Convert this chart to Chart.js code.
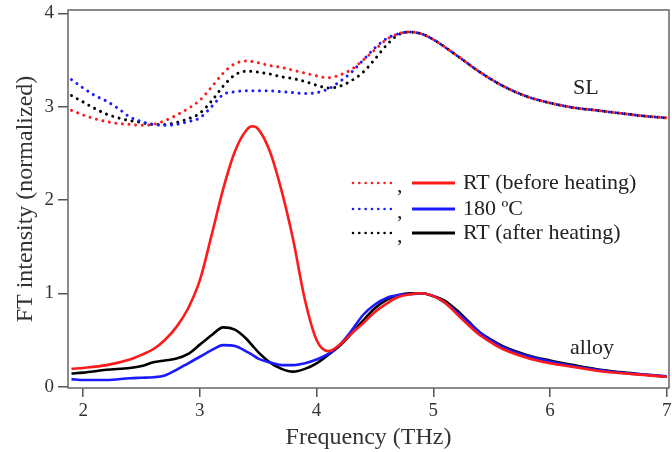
<!DOCTYPE html>
<html>
<head>
<meta charset="utf-8">
<script src="https://cdn.jsdelivr.net/npm/chart.js@4.4.1/dist/chart.umd.min.js"></script>
<style>
  html, body { margin: 0; padding: 0; background: #fff; }
  #wrap { width: 672px; height: 452px; }
</style>
</head>
<body>
<div id="wrap"><canvas id="chart" width="672" height="452"></canvas></div>
<script>
// frequencies (THz) for the SL (dotted) curves
const freqSL = [1.9, 2.0, 2.1, 2.2, 2.3, 2.4, 2.5, 2.6, 2.7, 2.8, 2.9, 3.0, 3.1, 3.2, 3.3, 3.4, 3.5, 3.6, 3.7, 3.8, 3.9,
  4.0, 4.1, 4.2, 4.3, 4.4, 4.5, 4.6, 4.7, 4.8, 4.9, 5.0, 5.2, 5.4, 5.6, 5.8, 6.0, 6.2, 6.4, 6.6, 6.8, 7.0];
const slBefore = [2.96, 2.91, 2.87, 2.84, 2.82, 2.81, 2.80, 2.81, 2.85, 2.91, 2.98, 3.07, 3.21, 3.36, 3.46, 3.49, 3.47, 3.44, 3.42, 3.39, 3.36,
  3.33, 3.31, 3.34, 3.40, 3.50, 3.61, 3.72, 3.78, 3.80, 3.78, 3.72, 3.55, 3.37, 3.22, 3.11, 3.04, 2.99, 2.96, 2.93, 2.90, 2.88];
const sl180 = [3.29, 3.20, 3.12, 3.06, 2.98, 2.89, 2.84, 2.81, 2.80, 2.81, 2.84, 2.88, 3.00, 3.13, 3.16, 3.17, 3.17, 3.17, 3.16, 3.15, 3.14,
  3.15, 3.19, 3.27, 3.37, 3.50, 3.63, 3.73, 3.78, 3.80, 3.78, 3.72, 3.55, 3.37, 3.22, 3.11, 3.04, 2.99, 2.96, 2.93, 2.90, 2.88];
const slAfter = [3.12, 3.05, 2.98, 2.92, 2.88, 2.85, 2.83, 2.81, 2.81, 2.83, 2.87, 2.93, 3.06, 3.22, 3.34, 3.38, 3.37, 3.35, 3.32, 3.30, 3.27,
  3.23, 3.20, 3.22, 3.28, 3.37, 3.51, 3.66, 3.77, 3.80, 3.78, 3.72, 3.55, 3.37, 3.22, 3.11, 3.04, 2.99, 2.96, 2.93, 2.90, 2.88];

// frequencies (THz) for the alloy (solid) curves
const freqAlloy = [1.9, 2.0, 2.2, 2.4, 2.5, 2.6, 2.7, 2.8, 2.9, 3.0, 3.1, 3.2, 3.3, 3.4, 3.45, 3.5, 3.6, 3.7, 3.8, 3.9,
  4.0, 4.1, 4.2, 4.3, 4.4, 4.5, 4.6, 4.7, 4.8, 4.9, 5.0, 5.1, 5.2, 5.3, 5.4, 5.5, 5.6, 5.8, 6.0, 6.2, 6.4, 6.6, 6.8, 7.0];
const alloyBefore = [0.19, 0.20, 0.23, 0.29, 0.34, 0.40, 0.50, 0.64, 0.84, 1.14, 1.62, 2.12, 2.52, 2.75, 2.79, 2.76, 2.52, 2.10, 1.57, 0.93,
  0.50, 0.38, 0.45, 0.57, 0.68, 0.80, 0.89, 0.96, 0.99, 1.00, 0.97, 0.90, 0.78, 0.66, 0.55, 0.47, 0.40, 0.31, 0.25, 0.21, 0.17, 0.145, 0.125, 0.105];
const alloy180 = [0.08, 0.07, 0.07, 0.09, 0.095, 0.10, 0.12, 0.18, 0.25, 0.32, 0.39, 0.445, 0.435, 0.375, 0.34, 0.30, 0.26, 0.23, 0.23, 0.25,
  0.29, 0.35, 0.45, 0.60, 0.77, 0.88, 0.95, 0.98, 0.99, 1.00, 0.97, 0.90, 0.80, 0.69, 0.58, 0.49, 0.42, 0.33, 0.27, 0.22, 0.18, 0.15, 0.13, 0.11];
const alloyAfter = [0.14, 0.15, 0.18, 0.20, 0.22, 0.26, 0.28, 0.30, 0.35, 0.45, 0.55, 0.635, 0.61, 0.51, 0.44, 0.37, 0.26, 0.19, 0.16, 0.19,
  0.25, 0.34, 0.44, 0.57, 0.71, 0.84, 0.93, 0.98, 1.00, 1.00, 0.97, 0.92, 0.82, 0.70, 0.58, 0.50, 0.43, 0.34, 0.28, 0.23, 0.185, 0.155, 0.13, 0.105];

const xTicks = [2, 3, 4, 5, 6, 7];
const yTicks = [0, 1, 2, 3, 4];
const legendLabels = ["RT (before heating)", "180 \u00BAC", "RT (after heating)"];
const colors = ["#ff1a1a", "#1a1aff", "#000000"];

const SERIF = '"Liberation Serif", "Times New Roman", serif';

function pts(xs, ys) {
  return xs.map((x, i) => ({ x, y: ys[i] }));
}

function dotted(data, color) {
  return {
    data, borderColor: color, borderWidth: 3, borderDash: [0.01, 6.6], borderCapStyle: "round",
    pointRadius: 0, fill: false, cubicInterpolationMode: "monotone",
  };
}

function solid(data, color) {
  return { data, borderColor: color, borderWidth: 2.6, pointRadius: 0, fill: false, cubicInterpolationMode: "monotone" };
}

const overlay = {
  id: "overlay",
  afterDraw(chart) {
    const { ctx, chartArea: a } = chart;
    ctx.save();
    ctx.strokeStyle = "#666";
    ctx.lineWidth = 1.5;
    ctx.strokeRect(a.left, a.top, a.right - a.left, a.bottom - a.top);

    // legend: dotted , solid  label
    const rows = [183, 209, 233];
    ctx.font = "22px " + SERIF;
    ctx.textBaseline = "middle";
    rows.forEach((y, i) => {
      ctx.strokeStyle = colors[i];
      ctx.lineCap = "round";
      ctx.lineWidth = 2.6;
      ctx.setLineDash([0.01, 6.3]);
      ctx.beginPath(); ctx.moveTo(353, y); ctx.lineTo(391, y); ctx.stroke();
      ctx.setLineDash([]);
      ctx.lineCap = "butt";
      ctx.lineWidth = 3;
      ctx.beginPath(); ctx.moveTo(412, y); ctx.lineTo(455, y); ctx.stroke();
      ctx.fillStyle = "#222";
      ctx.fillText(",", 397, y + 3);
      ctx.fillText(legendLabels[i], 463, y);
    });
    ctx.fillText("SL", 573, 88);
    ctx.fillText("alloy", 570, 348);
    ctx.restore();
  }
};

new Chart(document.getElementById("chart"), {
  type: "line",
  data: {
    datasets: [
      dotted(pts(freqSL, slBefore), colors[0]),
      dotted(pts(freqSL, sl180), colors[1]),
      dotted(pts(freqSL, slAfter), colors[2]),
      solid(pts(freqAlloy, alloyBefore), colors[0]),
      solid(pts(freqAlloy, alloy180), colors[1]),
      solid(pts(freqAlloy, alloyAfter), colors[2]),
    ],
  },
  options: {
    responsive: false,
    animation: false,
    layout: { padding: { top: 10, right: 3, left: 0, bottom: 0 } },
    plugins: { legend: { display: false }, tooltip: { enabled: false } },
    scales: {
      x: {
        type: "linear", min: 1.87, max: 7.02,
        afterBuildTicks: (s) => { s.ticks = xTicks.map((v) => ({ value: v })); },
        afterFit: (s) => { s.height = 64; s.paddingLeft = 0; s.paddingRight = 0; },
        grid: { drawOnChartArea: false, tickLength: 9, color: "#555", lineWidth: 1.5 },
        border: { display: false },
        ticks: { color: "#333", font: { family: SERIF, size: 19 }, padding: 3 },
        title: { display: true, text: "Frequency (THz)", color: "#333", font: { family: SERIF, size: 24 }, padding: 0 },
      },
      y: {
        type: "linear", min: -0.015, max: 4.036,
        afterBuildTicks: (s) => { s.ticks = yTicks.map((v) => ({ value: v })); },
        afterFit: (s) => { s.width = 68; s.paddingTop = 0; s.paddingBottom = 0; },
        grid: { drawOnChartArea: false, tickLength: 10, color: "#555", lineWidth: 1.5 },
        border: { display: false },
        ticks: { color: "#333", font: { family: SERIF, size: 19 }, padding: 4 },
        title: { display: true, text: "FT intensity (normalized)", color: "#333", font: { family: SERIF, size: 24 }, padding: { top: 11, bottom: 0 } },
      },
    },
  },
  plugins: [overlay],
});
</script>
</body>
</html>
